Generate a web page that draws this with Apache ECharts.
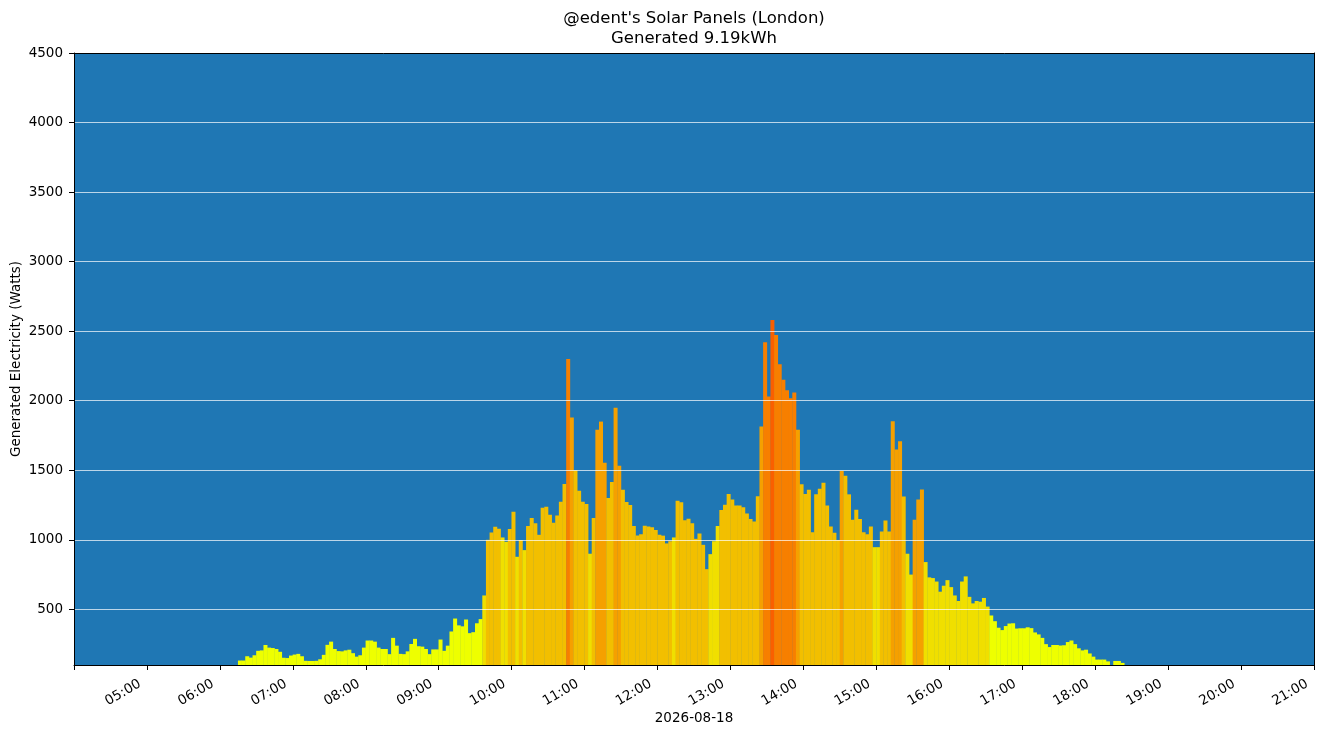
<!DOCTYPE html>
<html>
<head>
<meta charset="utf-8">
<title>Solar Panels</title>
<script src="https://cdn.jsdelivr.net/npm/echarts@6/dist/echarts.min.js"></script>
<style>
html,body{margin:0;padding:0;background:#fff;}
#container{width:1324px;height:736px;}
</style>
</head>
<body>
<div id="container"></div>
<script>
// one reading every 3 minutes, first slot starts at 06:15
var firstSlot = '06:15';
var slotMinutes = 3;
var watts = [
    132,132,163,153,170,202,205,244,225,222,      // 06:15
    215,195,152,150,168,175,180,163,130,129,      // 06:45
    129,130,141,173,245,268,215,200,198,205,      // 07:15
    210,185,160,170,225,276,276,268,225,215,      // 07:45
    215,178,295,239,180,178,198,251,288,235,      // 08:15
    232,215,178,212,212,283,202,239,341,434,      // 08:45
    385,378,427,329,336,400,430,600,1000,1053,    // 09:15
    1094,1080,1017,986,1077,1202,878,998,926,1100,    // 09:45
    1156,1120,1036,1230,1238,1180,1122,1175,1274,1401,  // 10:15
    2300,1880,1500,1353,1274,1257,900,1156,1792,1850,   // 10:45
    1554,1300,1415,1950,1533,1360,1271,1250,1100,1031,  // 11:15
    1040,1101,1095,1090,1070,1036,1030,974,990,1017,    // 11:45
    1281,1270,1140,1151,1120,1007,1046,964,789,897,     // 12:15
    990,1100,1214,1252,1329,1290,1247,1247,1235,1190,   // 12:45
    1150,1132,1314,1814,2420,2030,2580,2473,2263,2150,  // 13:15
    2075,2017,2060,1792,1400,1330,1360,1055,1327,1367,  // 13:45
    1411,1247,1096,1050,999,1495,1460,1327,1144,1216,   // 14:15
    1150,1055,1040,1096,947,947,1060,1139,1060,1853,    // 14:45
    1650,1709,1312,900,750,1144,1290,1362,840,730,      // 15:15
    725,700,627,670,710,660,600,560,700,737,      // 15:45
    590,543,560,555,582,520,456,415,368,351,      // 16:15
    380,398,400,362,364,364,371,365,334,320,      // 16:45
    295,250,229,244,244,240,242,265,276,250,      // 17:15
    220,205,210,183,160,139,139,139,126,80,       // 17:45
    129,129,115                                   // 18:15
];

// colour level of the bars, by time range (level 0 everywhere else)
var levelColors = ['#eeff00', '#f0df00', '#f2bf00', '#f5a000', '#f77f00', '#fa5f00'];
var colorBands = [
    ['09:37','09:40',1], ['09:40','09:52',2], ['09:52','09:57',1], ['09:57','10:04',2],
    ['10:04','10:06',1], ['10:06','10:10',2], ['10:10','10:12',1], ['10:12','10:45',2],
    ['10:45','10:48',4], ['10:48','10:51',3], ['10:51','11:03',2], ['11:03','11:06',1],
    ['11:06','11:09',2], ['11:09','11:18',3], ['11:18','11:24',2], ['11:24','11:30',3],
    ['11:30','12:12',2], ['12:12','12:15',1], ['12:15','12:42',2], ['12:42','12:51',1],
    ['12:51','13:24',2], ['13:24','13:27',3], ['13:27','13:33',4], ['13:33','13:36',5],
    ['13:36','13:54',4], ['13:54','13:57',3], ['13:57','14:30',2], ['14:30','14:33',3],
    ['14:33','14:57',2], ['14:57','15:03',1], ['15:03','15:12',2], ['15:12','15:21',3],
    ['15:21','15:24',2], ['15:24','15:30',1], ['15:30','15:39',3], ['15:39','16:33',1]
];

var dayLabel = '2026-08-18';
var axisStart = '04:00';
var axisEnd = '21:00';

function toMin(s){
    var p = s.split(':');
    return parseInt(p[0],10)*60 + parseInt(p[1],10);
}
function fmt(m){
    var h = Math.floor(m/60), mm = m%60;
    return (h<10?'0':'') + h + ':' + (mm<10?'0':'') + mm;
}
function levelAt(m){
    for(var i=0;i<colorBands.length;i++){
        if(m >= toMin(colorBands[i][0]) && m < toMin(colorBands[i][1])) return colorBands[i][2];
    }
    return 0;
}

var data = [];
for(var i=0;i<watts.length;i++){
    var mid = toMin(firstSlot) + i*slotMinutes + slotMinutes/2;
    data.push({
        value: [mid, watts[i]],
        itemStyle: {color: levelColors[levelAt(mid)]}
    });
}

var myChart = echarts.init(document.getElementById('container'));
var black = '#000';
var xMin = toMin(axisStart), xMax = toMin(axisEnd);

var option = {
    animation: false,
    textStyle: {fontFamily: 'DejaVu Sans'},
    title: {
        text: "@edent's Solar Panels (London)\nGenerated 9.19kWh",
        left: 694,
        top: 8,
        padding: 0,
        textAlign: 'center',
        textStyle: {fontSize: 16.5, fontWeight: 'normal', color: black, lineHeight: 20.5, fontFamily: 'DejaVu Sans'}
    },
    grid: {
        left: 74, right: 10, top: 53, bottom: 71,
        outerBoundsMode: 'none',
        containLabel: false,
        show: true, backgroundColor: '#1f77b4', borderWidth: 0
    },
    xAxis: [
        {
            type: 'value', min: xMin, max: xMax, interval: 60, position: 'bottom', z: 5,
            axisLine: {show: true, onZero: false, lineStyle: {color: black, width: 1}},
            axisTick: {show: true, length: 5, lineStyle: {color: black}},
            axisLabel: {
                rotate: 30, fontSize: 13.5, color: black, margin: 14,
                padding: [0, 8, 0, 0],
                formatter: function(v){ return v === xMin ? '' : fmt(v); }
            },
            splitLine: {show: false},
            name: dayLabel, nameLocation: 'middle', nameGap: 46, nameMoveOverlap: false,
            nameTextStyle: {fontSize: 13.5, color: black}
        },
        {
            type: 'value', min: xMin, max: xMax, position: 'top', z: 5,
            axisLine: {show: true, onZero: false, lineStyle: {color: black, width: 1}},
            axisTick: {show: false}, axisLabel: {show: false}, splitLine: {show: false}
        }
    ],
    yAxis: [
        {
            type: 'value', min: 100, max: 4500, splitNumber: 9, z: 4,
            axisLine: {show: true, onZero: false, lineStyle: {color: black, width: 1}},
            axisTick: {show: true, length: 5, lineStyle: {color: black}},
            axisLabel: {
                showMinLabel: false, fontSize: 13.5, color: black, margin: 11,
                formatter: function(v){ return String(v); }
            },
            splitLine: {show: true, lineStyle: {color: 'rgba(255,255,255,0.7)', width: 1}},
            name: 'Generated Electricity (Watts)', nameLocation: 'middle', nameGap: 51,
            nameMoveOverlap: false,
            nameTextStyle: {fontSize: 13.5, color: black}
        },
        {
            type: 'value', min: 100, max: 4500, position: 'right', z: 5,
            axisLine: {show: true, onZero: false, lineStyle: {color: black, width: 1}},
            axisTick: {show: false}, axisLabel: {show: false}, splitLine: {show: false}
        }
    ],
    series: [
        {
            name: 'Generated',
            type: 'bar',
            xAxisIndex: 0,
            yAxisIndex: 0,
            barWidth: 4,
            clip: true,
            data: data
        }
    ]
};

myChart.setOption(option);
</script>
</body>
</html>
